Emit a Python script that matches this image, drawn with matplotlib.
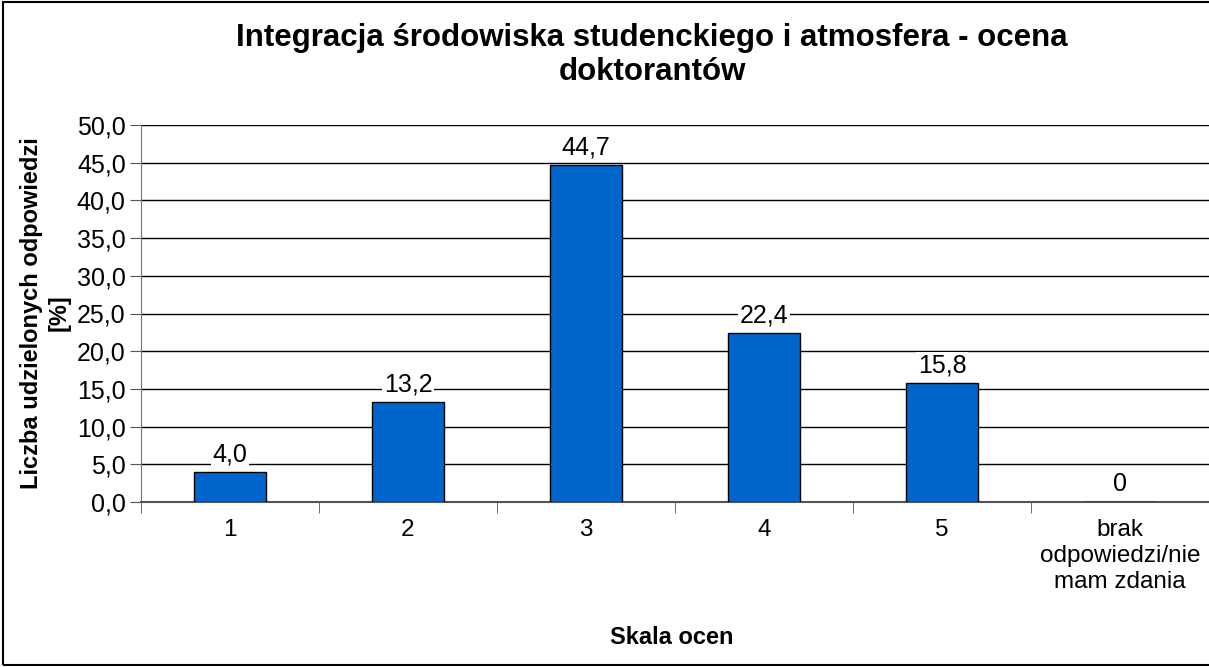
import numpy as np
import matplotlib
matplotlib.use("Agg")
import matplotlib.pyplot as plt
from matplotlib.patches import Rectangle

categories = ["1", "2", "3", "4", "5", "brak\nodpowiedzi/nie\nmam zdania"]
values = [4.0, 13.2, 44.7, 22.4, 15.8, 0.0]
value_labels = ["4,0", "13,2", "44,7", "22,4", "15,8", "0"]
yticks = np.arange(0, 55, 5)
ytick_labels = [f"{v:.1f}".replace(".", ",") for v in yticks]

plt.rcParams["font.family"] = ["Liberation Sans", "DejaVu Sans"]

W, H = 1209, 667
fig = plt.figure(figsize=(W / 100, H / 100), dpi=100)
ax = fig.add_axes([141 / W, 1 - 502 / H, 1 - 141 / W, (502 - 125) / H])

x = np.arange(len(categories))
ax.bar(x, values, width=0.41, color="#0066CC", edgecolor="black", linewidth=1, zorder=3)

for xi, v, lab in zip(x, values, value_labels):
    ax.annotate(lab, (xi, v), xytext=(0, 4), textcoords="offset points",
                ha="center", va="bottom", fontsize=18, zorder=4,
                bbox=dict(facecolor="white", edgecolor="none", pad=1))

ax.set_xlim(-0.5, len(categories) - 0.5)
ax.set_ylim(0, 50)
ax.set_yticks(yticks)
ax.set_yticklabels(ytick_labels, fontsize=18)
ax.set_xticks(x)
ax.set_xticklabels(categories, fontsize=17.5, linespacing=1.25)
ax.set_xticks(np.arange(-0.5, len(categories)), minor=True)
ax.tick_params(axis="x", which="major", length=0, pad=12)
ax.tick_params(axis="x", which="minor", length=8, color="#555555")
ax.tick_params(axis="y", length=8, color="#555555", pad=3)

ax.yaxis.grid(True, color="black", linewidth=1, zorder=0)
ax.set_axisbelow(True)
for side in ["top", "right"]:
    ax.spines[side].set_visible(False)
ax.spines["left"].set_color("#777777")
ax.spines["bottom"].set_color("#555555")
ax.spines["bottom"].set_linewidth(1.5)

fig.text(45 / W, 1 - 313 / H, "Liczba udzielonych odpowiedzi\n[%]", rotation=90,
         ha="center", va="center", fontsize=17, fontweight="bold", linespacing=1.25)
fig.text(672 / W, 1 - 638 / H, "Skala ocen", ha="center", va="center",
         fontsize=17, fontweight="bold")

fig.text(652 / W, 1 - 55 / H, "Integracja środowiska studenckiego i atmosfera - ocena\ndoktorantów",
         ha="center", va="center", fontsize=22.5, fontweight="bold", linespacing=1.15)

fig.patches.append(Rectangle((3 / W, 2 / H), 1.2, 1 - 4 / H, transform=fig.transFigure,
                             fill=False, edgecolor="black", linewidth=1.5))

fig.savefig("out.png", dpi=100)
